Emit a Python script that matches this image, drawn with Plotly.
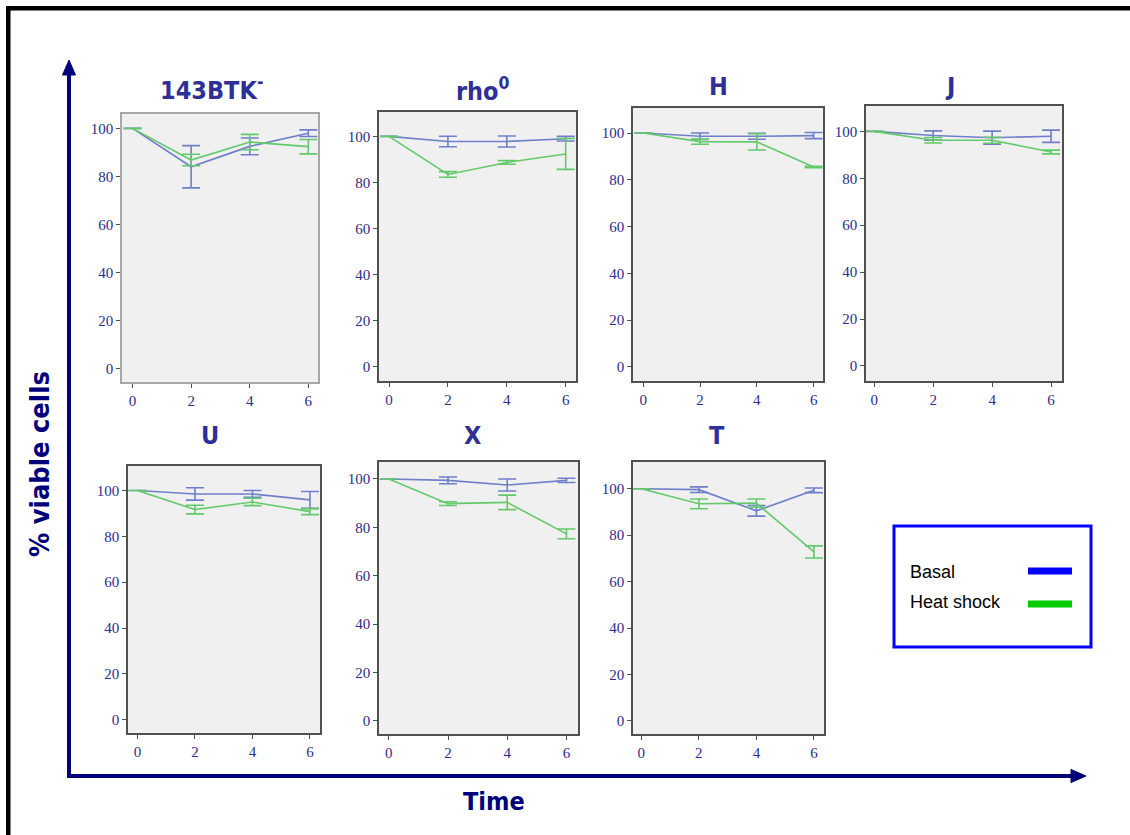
import plotly.graph_objects as go

# Sampling times (h)
times = [0, 2, 4, 6]

# Panel titles
panel_titles = ["143BTK<sup>-</sup>", "rho<sup>0</sup>", "H", "J", "U", "X", "T"]

# % viable cells, mean and error, per cell line
basal_143btk = [100, 84.0, 92.5, 98.0]
basal_err_143btk = [0, 8.8, 3.5, 1.4]
heat_143btk = [100, 86.8, 94.3, 92.4]
heat_err_143btk = [0, 2.4, 3.2, 3.0]

basal_rho0 = [100, 97.8, 97.8, 99.0]
basal_err_rho0 = [0, 2.3, 2.4, 1.0]
heat_rho0 = [100, 83.5, 88.7, 92.4]
heat_err_rho0 = [0, 1.2, 0.8, 6.7]

basal_h = [100, 98.6, 98.6, 98.9]
basal_err_h = [0, 1.4, 1.3, 1.3]
heat_h = [100, 96.3, 96.2, 85.5]
heat_err_h = [0, 1.1, 3.5, 0.3]

basal_j = [100, 98.2, 97.3, 97.9]
basal_err_j = [0, 2.0, 2.8, 2.6]
heat_j = [100, 96.2, 96.2, 91.2]
heat_err_j = [0, 1.2, 1.3, 0.8]

basal_u = [100, 98.5, 98.5, 95.9]
basal_err_u = [0, 2.7, 1.5, 3.7]
heat_u = [100, 91.7, 95.0, 90.8]
heat_err_u = [0, 1.9, 1.6, 1.3]

basal_x = [100, 99.4, 97.5, 99.4]
basal_err_x = [0, 1.4, 2.5, 0.9]
heat_x = [100, 89.8, 90.3, 77.3]
heat_err_x = [0, 0.8, 3.0, 2.0]

basal_t = [100, 99.6, 90.5, 99.3]
basal_err_t = [0, 1.2, 2.3, 1.0]
heat_t = [100, 93.5, 93.8, 72.8]
heat_err_t = [0, 2.1, 1.8, 2.6]

y_ticks = [0, 20, 40, 60, 80, 100]
legend_labels = ["Basal", "Heat shock"]

series = [
    (basal_143btk, basal_err_143btk, heat_143btk, heat_err_143btk),
    (basal_rho0, basal_err_rho0, heat_rho0, heat_err_rho0),
    (basal_h, basal_err_h, heat_h, heat_err_h),
    (basal_j, basal_err_j, heat_j, heat_err_j),
    (basal_u, basal_err_u, heat_u, heat_err_u),
    (basal_x, basal_err_x, heat_x, heat_err_x),
    (basal_t, basal_err_t, heat_t, heat_err_t),
]

W, H = 1130, 835

# Plot-area boxes in pixels: (left, top, right, bottom), plus axis ranges
boxes = [
    (122, 114, 318, 382), (379, 112, 576, 381), (633, 108, 823, 381), (866, 106, 1062, 381),
    (128, 466, 320, 733), (379, 462, 578, 734), (633, 462, 824, 734),
]
x_ranges = [(-0.36, 6.33), (-0.34, 6.35), (-0.36, 6.33), (-0.28, 6.37),
            (-0.33, 6.35), (-0.33, 6.39), (-0.29, 6.35)]
y_ranges = [(-5.7, 106.0), (-6.2, 110.6), (-6.1, 110.7), (-6.4, 110.8),
            (-5.8, 110.7), (-5.4, 107.0), (-5.6, 111.5)]
frame_colors = ["#a8a8a8"] + ["#505050"] * 6
title_x = [211, 483, 718, 950, 210, 473, 717]
title_y = [88, 89, 86, 86, 435, 435, 435]

BASAL = "#6f7fc9"
HEAT = "#63c96b"
TICK_BLUE = "#2d2d8c"
TITLE_BLUE = "#2f2f96"
NAVY = "#00007a"
COND = "Liberation Sans Narrow, DejaVu Sans Condensed, Arial Narrow, sans-serif"

fig = go.Figure()
layout = dict(
    width=W, height=H, autosize=False,
    margin=dict(l=0, r=0, t=0, b=0),
    paper_bgcolor="white", plot_bgcolor="#f0f0f0",
    showlegend=False,
)

annotations = []
shapes = []

for i, (b, be, h, he) in enumerate(series):
    n = i + 1
    xa = "x" if n == 1 else f"x{n}"
    ya = "y" if n == 1 else f"y{n}"
    l, t, r, btm = boxes[i]
    for vals, errs, col in ((b, be, BASAL), (h, he, HEAT)):
        fig.add_trace(go.Scatter(
            x=times, y=vals, mode="lines", xaxis=xa, yaxis=ya,
            line=dict(color=col, width=1.6),
            error_y=dict(type="data", array=errs, visible=True,
                         color=col, thickness=1.6, width=9),
            hoverinfo="skip",
        ))
    axis_common = dict(
        showline=True, mirror=True, linecolor=frame_colors[i], linewidth=1.5,
        showgrid=False, zeroline=False, ticks="outside", ticklen=4,
        tickcolor="#505050", tickwidth=1,
        tickfont=dict(family="Liberation Serif, Times New Roman, serif", size=15, color=TICK_BLUE),
    )
    layout["xaxis" if n == 1 else f"xaxis{n}"] = dict(
        axis_common, domain=[l / W, r / W], range=list(x_ranges[i]),
        tickvals=times, anchor=ya, fixedrange=True,
    )
    layout["yaxis" if n == 1 else f"yaxis{n}"] = dict(
        axis_common, domain=[1 - btm / H, 1 - t / H], range=list(y_ranges[i]),
        tickvals=y_ticks, anchor=xa, fixedrange=True,
    )
    annotations.append(dict(
        text=f"<b>{panel_titles[i]}</b>", x=title_x[i] / W, y=1 - title_y[i] / H,
        xref="paper", yref="paper", showarrow=False, xanchor="center", yanchor="middle",
        font=dict(family=COND, size=25, color=TITLE_BLUE),
    ))

# Axis titles
annotations.append(dict(
    text="<b>% viable cells</b>", x=39 / W, y=1 - 464 / H, xref="paper", yref="paper",
    showarrow=False, textangle=-90, xanchor="center", yanchor="middle",
    font=dict(family=COND, size=27, color=NAVY),
))
annotations.append(dict(
    text="<b>Time</b>", x=494 / W, y=1 - 801 / H, xref="paper", yref="paper",
    showarrow=False, xanchor="center", yanchor="middle",
    font=dict(family=COND, size=25, color=NAVY),
))


def px(x):
    return x / W


def py(y):
    return 1 - y / H


# Black frame along the top and left edges
shapes.append(dict(type="rect", xref="paper", yref="paper", x0=px(6), x1=px(1130),
                   y0=py(10.5), y1=py(6), fillcolor="black", line=dict(width=0), layer="above"))
shapes.append(dict(type="rect", xref="paper", yref="paper", x0=px(6), x1=px(10.5),
                   y0=py(835), y1=py(6), fillcolor="black", line=dict(width=0), layer="above"))

# Overall axis arrows
shapes.append(dict(type="line", xref="paper", yref="paper", x0=px(69), x1=px(69),
                   y0=py(778), y1=py(72), line=dict(color=NAVY, width=4)))
shapes.append(dict(type="path", xref="paper", yref="paper",
                   path=f"M {px(62.5)} {py(75)} L {px(69)} {py(60)} L {px(75.5)} {py(75)} Z",
                   fillcolor=NAVY, line=dict(color=NAVY, width=1)))
shapes.append(dict(type="line", xref="paper", yref="paper", x0=px(67), x1=px(1074),
                   y0=py(776), y1=py(776), line=dict(color=NAVY, width=4)))
shapes.append(dict(type="path", xref="paper", yref="paper",
                   path=f"M {px(1071)} {py(769.5)} L {px(1086)} {py(776)} L {px(1071)} {py(782.5)} Z",
                   fillcolor=NAVY, line=dict(color=NAVY, width=1)))

# Legend box
shapes.append(dict(type="rect", xref="paper", yref="paper", x0=px(894), x1=px(1091),
                   y0=py(647), y1=py(526), fillcolor="white",
                   line=dict(color="#0000ff", width=3)))
legend_colors = ["#0000ff", "#00cc00"]
legend_y = [571, 604]
for lab, col, yy in zip(legend_labels, legend_colors, legend_y):
    shapes.append(dict(type="line", xref="paper", yref="paper", x0=px(1028), x1=px(1072),
                       y0=py(yy), y1=py(yy), line=dict(color=col, width=7)))
    annotations.append(dict(
        text=lab, x=px(908), y=py(yy + 1 if lab == "Basal" else yy - 2), xref="paper", yref="paper",
        showarrow=False, xanchor="left", yanchor="middle",
        font=dict(family="Liberation Sans, Arial, sans-serif", size=18, color="black"),
    ))

layout["annotations"] = annotations
layout["shapes"] = shapes
fig.update_layout(**layout)

fig.write_html("out.html", config={"displayModeBar": False})
